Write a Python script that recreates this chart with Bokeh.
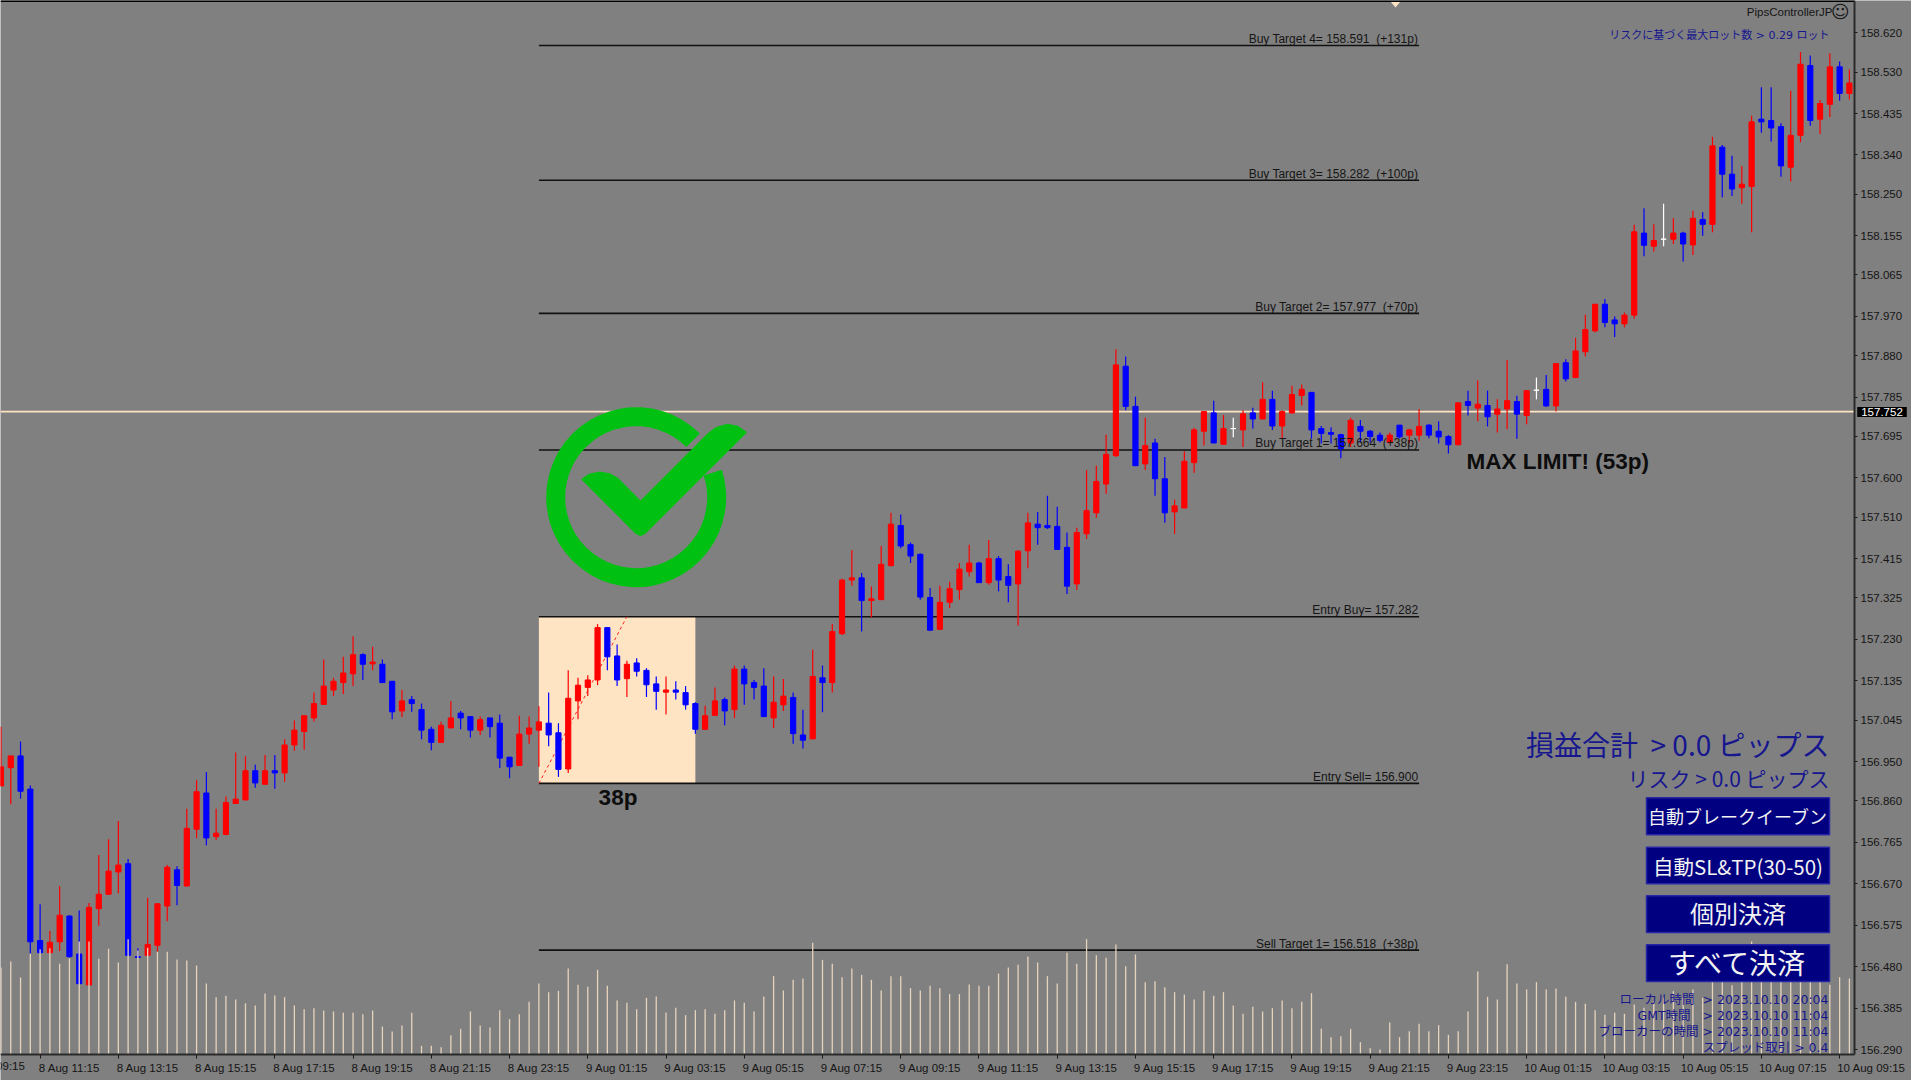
from bokeh.plotting import figure
from bokeh.embed import file_html
from bokeh.resources import INLINE
from bokeh.models import Range1d, LinearAxis, FixedTicker, Label, AllLabels, ColumnDataSource

# ---------- data ----------
OPEN = [156.894,156.936,156.963,156.887,156.540,156.512,156.537,156.596,156.509,156.438,156.613,156.646,156.697,156.716,156.503,156.506,156.529,156.619,156.702,156.665,156.795,156.878,156.778,156.783,156.854,156.862,156.929,156.898,156.929,156.924,156.988,157.019,157.050,157.081,157.114,157.131,157.151,157.195,157.174,157.173,157.134,157.066,157.092,157.069,157.024,156.994,157.027,157.061,157.053,157.022,157.050,157.038,156.960,156.941,157.013,157.022,157.038,157.016,
156.933,157.089,157.120,157.137,157.257,157.192,157.140,157.176,157.159,157.128,157.109,157.114,157.108,157.083,157.024,157.056,157.092,157.069,157.162,157.131,157.123,157.050,157.080,157.097,157.011,157.002,157.142,157.131,
157.243,157.366,157.371,157.319,157.321,157.399,157.491,157.447,157.425,157.326,157.253,157.315,157.344,157.385,157.405,157.360,157.415,157.374,157.357,157.433,157.494,157.491,157.489,157.441,157.357,157.472,157.520,157.586,157.651,157.856,157.764,157.632,157.680,157.598,157.522,157.531,157.635,157.707,157.749,157.677,157.713,157.710,157.749,157.735,157.780,157.719,157.749,157.789,157.796,157.713,157.704,157.699,157.680,
157.718,157.707,157.698,157.681,157.721,157.698,157.698,157.721,157.707,157.695,157.676,157.775,157.760,157.766,157.746,157.758,157.775,157.743,157.801,157.803,157.765,157.864,157.830,157.889,157.937,157.998,157.962,157.953,157.973,158.161,158.131,158.147,158.147,158.161,158.134,158.192,158.181,158.358,158.296,158.265,158.268,158.422,158.419,158.405,158.312,158.385,158.545,158.422,158.456,158.542,158.481]
HIGH = [157.030,156.963,156.996,156.895,156.623,156.562,156.665,156.598,156.609,156.626,156.736,156.772,156.814,156.727,156.522,156.638,156.626,156.713,156.710,156.842,156.907,156.926,156.842,156.870,156.971,156.962,156.943,156.965,156.965,157.001,157.044,157.055,157.108,157.184,157.142,157.190,157.237,157.198,157.213,157.184,157.134,157.114,157.100,157.083,157.030,157.041,157.089,157.066,157.053,157.053,157.050,157.058,156.961,157.055,157.053,157.077,157.108,157.038,
157.159,157.142,157.148,157.265,157.257,157.218,157.181,157.187,157.164,157.145,157.145,157.134,157.123,157.086,157.078,157.120,157.097,157.170,157.170,157.137,157.164,157.145,157.139,157.108,157.069,157.206,157.170,157.265,
157.369,157.435,157.382,157.351,157.444,157.520,157.516,157.452,157.427,157.348,157.353,157.362,157.405,157.447,157.408,157.458,157.421,157.402,157.435,157.520,157.522,157.559,157.534,157.475,157.486,157.618,157.628,157.699,157.895,157.878,157.786,157.738,157.690,157.648,157.550,157.661,157.715,157.752,157.777,157.744,157.738,157.755,157.761,157.819,157.800,157.755,157.811,157.814,157.797,157.719,157.716,157.701,157.738,
157.733,157.710,157.704,157.704,157.721,157.712,157.758,157.723,157.730,157.698,157.772,157.800,157.823,157.800,157.780,157.870,157.788,157.800,157.830,157.836,157.862,157.872,157.921,157.974,157.998,158.010,157.970,157.979,158.180,158.218,158.181,158.228,158.195,158.164,158.212,158.209,158.382,158.363,158.338,158.315,158.430,158.495,158.495,158.413,158.487,158.576,158.568,158.466,158.573,158.554,158.536]
LOW = [156.894,156.852,156.865,156.510,156.510,156.510,156.516,156.501,156.441,156.438,156.574,156.644,156.648,156.506,156.501,156.506,156.514,156.584,156.621,156.663,156.775,156.758,156.770,156.781,156.854,156.862,156.890,156.898,156.888,156.904,156.975,156.977,157.042,157.080,157.100,157.105,157.123,157.137,157.159,157.131,157.047,157.052,157.064,157.001,156.976,156.994,157.027,157.024,157.005,157.011,157.005,156.935,156.912,156.941,156.991,156.938,156.985,156.915,
156.924,157.047,157.100,157.125,157.159,157.123,157.098,157.145,157.098,157.069,157.058,157.092,157.069,157.014,157.022,157.056,157.033,157.050,157.080,157.092,157.053,157.027,157.066,156.991,156.980,157.002,157.063,157.108,
157.240,157.353,157.248,157.281,157.321,157.397,157.439,157.405,157.321,157.251,157.252,157.302,157.321,157.374,157.360,157.355,157.340,157.315,157.262,157.393,157.447,157.483,157.436,157.334,157.343,157.460,157.509,157.564,157.648,157.755,157.628,157.618,157.559,157.497,157.472,157.531,157.612,157.674,157.680,157.677,157.693,157.671,157.713,157.735,157.710,157.691,157.747,157.766,157.690,157.679,157.679,157.645,157.671,
157.681,157.681,157.681,157.679,157.691,157.679,157.685,157.691,157.679,157.656,157.676,157.743,157.730,157.718,157.704,157.712,157.690,157.723,157.780,157.763,157.752,157.821,157.830,157.878,157.934,157.945,157.923,157.945,157.965,158.108,158.119,158.131,158.136,158.096,158.111,158.155,158.163,158.243,158.246,158.228,158.163,158.391,158.371,158.290,158.279,158.369,158.407,158.388,158.427,158.464,158.467]
CLOSE = [156.938,156.963,156.882,156.537,156.512,156.536,156.598,156.503,156.441,156.616,156.646,156.699,156.713,156.506,156.501,156.531,156.624,156.708,156.666,156.797,156.881,156.775,156.786,156.856,156.864,156.929,156.901,156.929,156.924,156.988,157.022,157.055,157.083,157.123,157.134,157.153,157.195,157.173,157.178,157.131,157.064,157.089,157.083,157.022,156.994,157.033,157.050,157.050,157.022,157.046,157.030,156.958,156.938,157.013,157.027,157.041,157.011,156.932,
157.095,157.125,157.137,157.257,157.190,157.137,157.173,157.157,157.126,157.111,157.114,157.109,157.080,157.024,157.055,157.089,157.066,157.162,157.128,157.120,157.053,157.086,157.100,157.014,156.999,157.145,157.131,157.248,
157.366,157.371,157.319,157.323,157.402,157.494,157.444,157.421,157.327,157.251,157.315,157.346,157.391,157.405,157.360,157.415,157.366,157.354,157.432,157.497,157.486,157.486,157.436,157.352,157.475,157.525,157.592,157.654,157.859,157.764,157.628,157.674,157.598,157.520,157.536,157.638,157.710,157.752,157.680,157.713,157.713,157.747,157.735,157.780,157.719,157.752,157.791,157.803,157.710,157.702,157.700,157.667,157.732,
157.707,157.695,157.686,157.698,157.694,157.710,157.718,157.698,157.694,157.676,157.772,157.766,157.769,157.740,157.758,157.777,157.746,157.800,157.801,157.765,157.862,157.827,157.891,157.940,157.998,157.956,157.953,157.973,158.164,158.133,158.144,158.147,158.161,158.136,158.195,158.181,158.361,158.296,158.262,158.273,158.416,158.416,158.402,158.315,158.385,158.548,158.419,158.458,158.542,158.481,158.505]
VOLUME = [261,279,231,302,316,319,272,289,339,339,287,317,276,346,312,320,308,308,285,282,267,213,172,176,165,154,147,183,177,172,147,136,139,132,129,125,125,121,132,84,69,87,125,26,26,22,58,77,129,87,81,133,106,121,158,213,187,191,
258,209,203,254,206,162,155,136,170,174,126,140,118,133,136,122,133,162,155,129,174,235,192,224,228,335,284,272,232,258,239,224,192,235,235,199,192,206,199,181,181,210,206,206,243,261,269,294,276,235,213,305,272,346,298,290,330,265,300,
217,220,202,187,180,165,191,176,187,147,122,143,129,139,162,139,158,184,77,52,55,77,37,19,15,96,52,70,92,70,88,59,70,129,249,173,165,271,213,195,217,195,198,
173,158,152,133,119,125,122,150,140,160,170,190,170,195,170,240,235,208,230,339,240,245,235,250,265,245,235,209,232,228]
FIRST_BAR = -4
CURRENT_PRICE = 157.752
LEVELS = [158.591,158.282,157.977,157.664,157.282,156.900,156.518]
LEVEL_LABELS = ["Buy Target 4= 158.591 \u00a0(+131p)","Buy Target 3= 158.282 \u00a0(+100p)","Buy Target 2= 157.977 \u00a0(+70p)",
                "Buy Target 1= 157.664 \u00a0(+38p)","Entry Buy= 157.282","Entry Sell= 156.900","Sell Target 1= 156.518 \u00a0(+38p)"]
LEVEL_START, LEVEL_END = 51, 141
ZONE_START, ZONE_END = 51, 67
TREND_START, TREND_END = 51, 60
PRICE_TICKS = [158.620,158.530,158.435,158.340,158.250,158.155,158.065,157.970,157.880,157.785,157.695,157.600,157.510,157.415,157.325,157.230,157.135,157.045,156.950,156.860,156.765,156.670,156.575,156.480,156.385,156.290]
TIME_TICKS = list(range(0, 185, 8))
TIME_LABELS = ["8 Aug 11:15","8 Aug 13:15","8 Aug 15:15","8 Aug 17:15","8 Aug 19:15","8 Aug 21:15","8 Aug 23:15",
               "9 Aug 01:15","9 Aug 03:15","9 Aug 05:15","9 Aug 07:15","9 Aug 09:15","9 Aug 11:15","9 Aug 13:15","9 Aug 15:15","9 Aug 17:15","9 Aug 19:15","9 Aug 21:15","9 Aug 23:15",
               "10 Aug 01:15","10 Aug 03:15","10 Aug 05:15","10 Aug 07:15","10 Aug 09:15"]

# ---------- layout: pixel <-> data helpers for annotations ----------
CANVAS_W, CANVAS_H = 1911, 1080          # frame fills the whole figure; axes sit inside it
AXIS_X, AXIS_Y = 1854, 1054
X0, DX = 39.6, 9.78
Y_TOP, DY = 158.694, 0.0022915
def px_x(px): return (px - X0) / DX
def px_y(py): return Y_TOP - py * DY

BG = "#808080"; INK = "#151515"; BISQUE = "#FFE4C4"; NAVY = "#000080"; BLUE_TXT = "#16168f"; GREEN = "#00C112"
CJK = "DejaVu Sans, Noto Sans CJK JP"; JP = "Noto Sans CJK JP"; UI = "Liberation Sans"

p = figure(frame_width=CANVAS_W, frame_height=CANVAS_H, output_backend="svg", toolbar_location=None,
           x_range=Range1d(px_x(0), px_x(CANVAS_W)), y_range=Range1d(px_y(CANVAS_H), px_y(0)),
           background_fill_color=BG, border_fill_color=BG, outline_line_color=None,
           min_border=0, x_axis_location=None, y_axis_location=None)
p.grid.visible = False
p.extra_y_ranges = {"vol": Range1d((AXIS_Y - CANVAS_H) * 3, AXIS_Y * 3)}

# right price axis
ya = LinearAxis(fixed_location=px_x(AXIS_X), bounds=(px_y(AXIS_Y), px_y(0)),
                ticker=FixedTicker(ticks=PRICE_TICKS), major_label_overrides={t: f"{t:.3f}" for t in PRICE_TICKS},
                axis_line_color="#2a2a2a", axis_line_width=2, major_tick_line_color="#1a1a1a", major_tick_out=3, major_tick_in=0,
                minor_tick_line_color=None, major_label_text_font=UI, major_label_text_font_size="11.5px",
                major_label_text_color=INK, major_label_standoff=3, major_label_policy=AllLabels())
p.add_layout(ya, "right")

# bottom time axis: ticks, then labels set to the right of their ticks as on the chart
xa = LinearAxis(fixed_location=px_y(AXIS_Y), bounds=(px_x(0), px_x(AXIS_X)),
                ticker=FixedTicker(ticks=TIME_TICKS), axis_line_color="#2a2a2a", axis_line_width=2,
                major_tick_line_color="#1a1a1a", major_tick_out=4, major_tick_in=0, minor_tick_line_color=None,
                major_label_text_font_size="0px", major_label_standoff=0)
xa.major_label_overrides = {t: "" for t in TIME_TICKS}
p.add_layout(xa, "below")
label_pos = [t + (3.25 if lab.startswith("10") else 3.0) for t, lab in zip(TIME_TICKS, TIME_LABELS)]
xb = LinearAxis(fixed_location=px_y(AXIS_Y), ticker=FixedTicker(ticks=label_pos), major_label_overrides=dict(zip(label_pos, TIME_LABELS)),
                axis_line_color=None, major_tick_line_color=None, minor_tick_line_color=None,
                major_label_text_font=UI, major_label_text_font_size="11.5px", major_label_text_color=INK,
                major_label_standoff=1, major_label_policy=AllLabels())
p.add_layout(xb, "below")

# zone, lines
idx = [FIRST_BAR + k for k in range(len(OPEN))]
p.quad(left=ZONE_START, right=ZONE_END, top=LEVELS[4], bottom=LEVELS[5], fill_color=BISQUE, line_color=None)
p.segment(x0=[LEVEL_START]*len(LEVELS), x1=[LEVEL_END]*len(LEVELS), y0=LEVELS, y1=LEVELS, line_color="#111111", line_width=1.6)
p.segment(x0=[px_x(0)], x1=[px_x(AXIS_X)], y0=[CURRENT_PRICE], y1=[CURRENT_PRICE], line_color=BISQUE, line_width=1.6)
p.line([TREND_START, TREND_END], [LEVELS[5], LEVELS[4]], line_color="#ff2020", line_width=1, line_dash="3 3")

# candles
colors = ["#FF0000" if c > o else ("#0000FF" if c < o else "#FFFFFF") for o, c in zip(OPEN, CLOSE)]
src = ColumnDataSource(dict(x=idx, o=OPEN, h=HIGH, l=LOW, c=CLOSE, color=colors,
                            top=[max(a, b) for a, b in zip(OPEN, CLOSE)], bot=[min(a, b) for a, b in zip(OPEN, CLOSE)]))
p.segment(x0="x", x1="x", y0="l", y1="h", line_color="color", line_width=1.2, source=src)
p.vbar(x="x", width=0.53, top="top", bottom="bot", fill_color="color", line_color="color", line_width=1, source=src)

# volumes
p.segment(x0=idx, x1=idx, y0=[0]*len(idx), y1=VOLUME, line_color="#E6D3BC", line_width=1.3, y_range_name="vol")

# check mark icon
p.annular_wedge(x=[px_x(635.7)], y=[px_y(496.7)], inner_radius=71, outer_radius=90, inner_radius_units="screen", outer_radius_units="screen",
                start_angle=0.785, end_angle=0.31, direction="anticlock", fill_color=GREEN, line_color=None)
chk = [(152,266),(175,250),(207,243),(238,248),(262,262),(330,330),(530,130),(555,110),(590,100),(622,106),(650,125),(345,430),(330,437),(315,430)]
p.patch([px_x(530+a/3) for a, b in chk], [px_y(390+b/3) for a, b in chk], fill_color=GREEN, line_color=None)

# marker at the top
p.patch([px_x(1390), px_x(1400), px_x(1395)], [px_y(1), px_y(1), px_y(7)], fill_color=BISQUE, line_color=None)

# buttons
BUTTONS = [("自動ブレークイーブン", 797.3, 834.3, 18, 0), ("自動SL&TP(30-50)", 846.7, 883.3, 20.5, 0), ("個別決済", 895.3, 932, 24, -2), ("すべて決済", 944.3, 981, 28, -1)]
p.quad(left=px_x(1646), right=px_x(1829), top=[px_y(b[1]) for b in BUTTONS], bottom=[px_y(b[2]) for b in BUTTONS],
       fill_color=NAVY, line_color="#2626a6", line_width=1.5)

def note(text, px, py, size, color, align="right", font=JP, style="normal", base="middle", **kw):
    p.add_layout(Label(x=px_x(px), y=px_y(py), text=text, text_align=align, text_baseline=base, text_font=font,
                       text_font_size=f"{size}px", text_font_style=style, text_color=color, **kw))

for b in BUTTONS:
    note(b[0], 1737.5, (b[1] + b[2]) / 2 + b[4], b[3], "#f2f2f2", align="center")

# level labels
for lv, tx in zip(LEVELS, LEVEL_LABELS):
    p.add_layout(Label(x=LEVEL_END - 0.1, y=lv, y_offset=6.5, text=tx, text_align="right", text_baseline="alphabetic",
                       text_font=UI, text_font_size="12px", text_color=INK))

note("38p", 617.5, 797, 22.5, "#0d0d0d", align="center", font=UI, style="bold")
note("MAX LIMIT! (53p)", 1466, 461, 22.5, "#0d0d0d", align="left", font=UI, style="bold")

note("PipsControllerJP", 1832, 11, 11.5, INK, font=UI)
note("\u263a", 1849, 11, 18, INK, font="DejaVu Sans")
note("リスクに基づく最大ロット数 > 0.29 ロット", 1829, 35, 11, BLUE_TXT, font=CJK)
note("損益合計 \u00a0> 0.0 ピップス", 1829, 743.5, 28, BLUE_TXT)
note("リスク > 0.0 ピップス", 1829, 777.5, 21, BLUE_TXT)
note("ローカル時間 \u00a0> 2023.10.10 20:04", 1828, 999, 12.5, BLUE_TXT, font=CJK)
note("GMT時間 \u00a0\u00a0> 2023.10.10 11:04", 1828, 1015, 12.5, BLUE_TXT, font=CJK)
note("ブローカーの時間 > 2023.10.10 11:04", 1828, 1031, 12.5, BLUE_TXT, font=CJK)
note("スプレッド取引 > 0.4", 1828, 1047, 12.5, BLUE_TXT, font=CJK)

# tick label of the bar just off the left edge, cut by the window as on the chart
note("8 Aug 09:15", 25, 1065, 11.5, INK, font=UI)

# current price tag
note(f"{CURRENT_PRICE:.3f}", 1881.5, 411.5, 11.5, "#ffffff", align="center", font=UI, background_fill_color="#000000", padding=(4, 1))

# top edge of the chart window
p.segment(x0=[px_x(0)], x1=[px_x(AXIS_X)], y0=[Y_TOP], y1=[Y_TOP], line_color="#000000", line_width=3)

html = file_html(p, INLINE)
html = html.replace("</head>", "<style>html,body{margin:0;padding:0}</style></head>")
open("out.html", "w").write(html)
